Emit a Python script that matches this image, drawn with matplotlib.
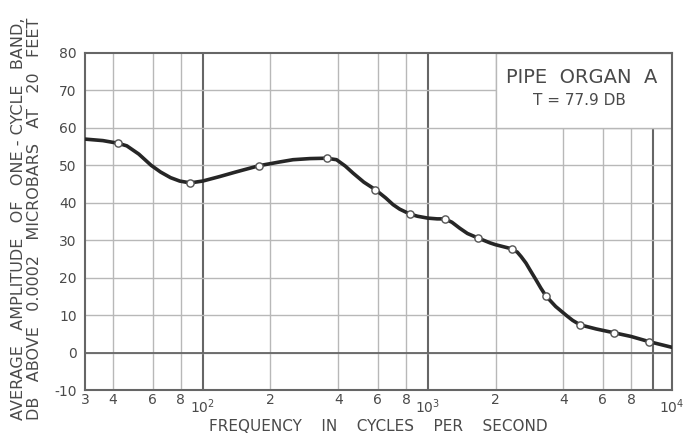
import matplotlib.pyplot as plt
from matplotlib.patches import Rectangle
from matplotlib.transforms import blended_transform_factory

# pontos marcados (circulos)
marker_freq = [42, 88, 178, 355, 585, 832, 1190, 1670, 2360, 3350, 4750, 6700, 9640]
marker_db = [55.9, 45.3, 49.9, 51.9, 43.5, 37.0, 35.7, 30.6, 27.7, 15.1, 7.4, 5.3, 2.9]

# curva desenhada a mao, lida ponto a ponto
curve_freq = [30, 36, 42, 46, 52, 59, 65, 72, 79, 88, 100, 119, 140, 178, 220, 252, 300,
              355, 393, 430, 466, 520, 585, 650, 701, 750, 832, 900, 1000, 1100, 1190,
              1280, 1387, 1500, 1670, 1888, 2000, 2360, 2500, 2600, 2730, 2850, 3020,
              3180, 3350, 3700, 4130, 4400, 4750, 5600, 6700, 8000, 9640, 12150]
curve_db = [57.0, 56.6, 55.9, 55.2, 53.0, 50.0, 48.2, 46.7, 45.8, 45.3, 45.8, 47.0, 48.2,
            49.9, 50.9, 51.5, 51.8, 51.9, 51.5, 49.8, 47.9, 45.5, 43.5, 41.3, 39.5, 38.3,
            37.0, 36.4, 35.9, 35.7, 35.7, 34.8, 33.2, 31.8, 30.6, 29.3, 28.8, 27.7, 26.8,
            25.6, 23.9, 22.0, 19.5, 17.2, 15.1, 12.3, 9.9, 8.6, 7.4, 6.3, 5.3, 4.3, 2.9, 1.4]

minor_x = [40, 60, 80, 200, 400, 600, 800, 2000, 4000, 6000, 8000]
major_x = [100, 1000, 10000]
tick_x = [30, 40, 60, 80, 200, 400, 600, 800, 2000, 4000, 6000, 8000]
tick_x_labels = ['3', '4', '6', '8', '2', '4', '6', '8', '2', '4', '6', '8']
decade_x = [100, 1000, 12150]
decade_labels = [r'$\mathregular{10^2}$', r'$\mathregular{10^3}$', r'$\mathregular{10^4}$']
y_ticks = [-10, 0, 10, 20, 30, 40, 50, 60, 70, 80]

title = 'PIPE  ORGAN  A'
subtitle = 'T = 77.9 DB'

txt = '#4a4a4a'
light = '#b8b8b8'
dark = '#666666'

fig = plt.figure(figsize=(6.84, 4.36), dpi=100)
ax = fig.add_axes([0.1243, 0.1055, 0.858, 0.773])
ax.set_xscale('log')
ax.set_xlim(30, 12150)
ax.set_ylim(-10, 80)

# grade do papel
for x in minor_x:
    ax.axvline(x, color=light, lw=1.0, zorder=1)
for x in major_x:
    ax.axvline(x, color=dark, lw=1.5, zorder=1)
for y in y_ticks[1:-1]:
    ax.axhline(y, color=light, lw=1.0, zorder=1)
ax.axhline(0, color=dark, lw=1.3, zorder=1)

# caixa branca do titulo
ax.add_patch(Rectangle((2000, 60), 12150 - 2000, 20, facecolor='white',
                       edgecolor=light, lw=1.0, zorder=2))
ax.text(0.847, 0.926, title, transform=ax.transAxes, ha='center', va='center',
        fontsize=14, color=txt, zorder=3)
ax.text(0.843, 0.858, subtitle, transform=ax.transAxes, ha='center', va='center',
        fontsize=11, color=txt, zorder=3)

# curva e pontos
ax.plot(curve_freq, curve_db, color='#262626', lw=2.6, solid_joinstyle='round',
        solid_capstyle='round', zorder=4)
ax.plot(marker_freq, marker_db, 'o', ms=5.2, mfc='white', mec='#555555', mew=1.0, zorder=5)

for s in ax.spines.values():
    s.set_color(dark)
    s.set_linewidth(1.5)

ax.set_xticks(tick_x)
ax.set_xticklabels(tick_x_labels)
ax.xaxis.set_minor_locator(plt.NullLocator())
ax.set_yticks(y_ticks)
ax.set_yticklabels([str(v) for v in y_ticks])
ax.tick_params(length=0, labelsize=10, labelcolor=txt)
ax.tick_params(axis='x', pad=2)
ax.tick_params(axis='y', pad=6)

trans = blended_transform_factory(ax.transData, ax.transAxes)
for x, lab in zip(decade_x, decade_labels):
    ax.text(x, -0.05, lab, transform=trans, ha='center', va='center',
            fontsize=10, color=txt)

fig.text(0.5524, 0.022, 'FREQUENCY    IN    CYCLES    PER    SECOND', ha='center',
         va='center', fontsize=11, color=txt)
fig.text(0.027, 0.498, 'AVERAGE   AMPLITUDE   OF   ONE - CYCLE   BAND,', rotation=90,
         ha='center', va='center', fontsize=11.5, color=txt)
fig.text(0.051, 0.498, 'DB   ABOVE   0.0002   MICROBARS   AT   20   FEET', rotation=90,
         ha='center', va='center', fontsize=11.5, color=txt)

fig.savefig('out.png', dpi=100, facecolor='white')
